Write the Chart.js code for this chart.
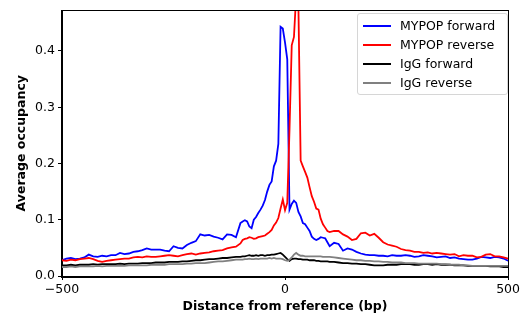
<!DOCTYPE html>
<html>
<head>
<meta charset="utf-8">
<script src="https://cdn.jsdelivr.net/npm/chart.js@4"></script>
<style>
  body { margin: 0; background: #fff; }
  #wrap { position: relative; width: 522px; height: 315px; }
  #legend {
    position: absolute; left: 357px; top: 13px; width: 149px; height: 80px;
    border: 1px solid #d6d6d6; border-radius: 3px; background: rgba(255,255,255,0.8);
    font-family: 'DejaVu Sans'; font-size: 12.5px; color: #000;
  }
  .row { position: absolute; left: 0; height: 16px; line-height: 16px; white-space: nowrap; }
  .swatch { position: absolute; left: 5px; top: 7px; width: 28px; height: 2px; }
  .label { position: absolute; left: 42px; top: 0; }
</style>
</head>
<body>
<div id="wrap">
  <canvas id="occChart" width="522" height="315"></canvas>
  <div id="legend"></div>
</div>
<script>
// distance from reference (bp)
const positions = [
  -500, -490, -480, -470, -460, -450, -440, -430, -420, -410,
  -400, -390, -380, -370, -360, -350, -340, -330, -320, -310,
  -300, -290, -280, -270, -260, -250, -240, -230, -220, -210,
  -200, -190, -180, -170, -160, -150, -140, -130, -120, -110,
  -100, -95, -90, -85, -80, -75, -70, -65, -60, -55,
  -50, -45, -40, -35, -30, -25, -20, -15, -10, -5,
  0, 5, 10, 15, 20, 25, 30, 35, 40, 45,
  50, 55, 60, 65, 70, 75, 80, 85, 90, 95,
  100, 110, 120, 130, 140, 150, 160, 170, 180, 190,
  200, 210, 220, 230, 240, 250, 260, 270, 280, 290,
  300, 310, 320, 330, 340, 350, 360, 370, 380, 390,
  400, 410, 420, 430, 440, 450, 460, 470, 480, 490, 500
];

const mypopForward = [
  0.028, 0.031, 0.032, 0.030, 0.031, 0.033, 0.038, 0.035, 0.034, 0.036,
  0.035, 0.037, 0.037, 0.041, 0.039, 0.040, 0.043, 0.044, 0.046, 0.049,
  0.047, 0.047, 0.047, 0.045, 0.044, 0.053, 0.050, 0.049, 0.055, 0.059,
  0.062, 0.074, 0.072, 0.073, 0.070, 0.068, 0.065, 0.074, 0.073, 0.069,
  0.094, 0.097, 0.099, 0.097, 0.088, 0.085, 0.100, 0.105, 0.112, 0.118,
  0.125, 0.135, 0.150, 0.162, 0.168, 0.195, 0.205, 0.235, 0.443, 0.440,
  0.415, 0.385, 0.118, 0.128, 0.134, 0.130, 0.114, 0.106, 0.094, 0.092,
  0.086, 0.080, 0.070, 0.066, 0.064, 0.066, 0.069, 0.068, 0.067, 0.060,
  0.053, 0.059, 0.057, 0.045, 0.049, 0.047, 0.043, 0.040, 0.038, 0.037,
  0.037, 0.036, 0.036, 0.035, 0.037, 0.036, 0.036, 0.037, 0.036, 0.034,
  0.035, 0.037, 0.036, 0.035, 0.033, 0.034, 0.035, 0.032, 0.033, 0.031,
  0.030, 0.029, 0.029, 0.031, 0.034, 0.033, 0.032, 0.034, 0.033, 0.031, 0.027
];

const mypopReverse = [
  0.028, 0.027, 0.029, 0.028, 0.030, 0.031, 0.032, 0.030, 0.027, 0.025,
  0.027, 0.028, 0.029, 0.030, 0.031, 0.031, 0.033, 0.034, 0.033, 0.035,
  0.034, 0.034, 0.035, 0.036, 0.037, 0.036, 0.035, 0.037, 0.039, 0.040,
  0.038, 0.040, 0.041, 0.042, 0.044, 0.045, 0.046, 0.049, 0.051, 0.052,
  0.058, 0.064, 0.066, 0.067, 0.069, 0.068, 0.066, 0.067, 0.069, 0.070,
  0.071, 0.072, 0.075, 0.078, 0.082, 0.090, 0.095, 0.103, 0.120, 0.136,
  0.117, 0.130, 0.260, 0.410, 0.425, 0.500, 0.480, 0.205, 0.195, 0.185,
  0.175, 0.158, 0.142, 0.132, 0.120, 0.118, 0.102, 0.092, 0.086, 0.080,
  0.078, 0.080, 0.080, 0.074, 0.070, 0.064, 0.066, 0.076, 0.077, 0.072,
  0.075, 0.068, 0.060, 0.056, 0.054, 0.052, 0.048, 0.046, 0.045, 0.043,
  0.043, 0.041, 0.042, 0.040, 0.041, 0.040, 0.039, 0.038, 0.039, 0.035,
  0.037, 0.036, 0.036, 0.033, 0.034, 0.038, 0.039, 0.035, 0.035, 0.033, 0.031
];

const iggForward = [
  0.019, 0.019, 0.020, 0.019, 0.020, 0.020, 0.020, 0.021, 0.020, 0.021,
  0.021, 0.021, 0.021, 0.022, 0.021, 0.022, 0.022, 0.022, 0.023, 0.023,
  0.023, 0.024, 0.024, 0.024, 0.025, 0.025, 0.025, 0.026, 0.026, 0.027,
  0.028, 0.028, 0.029, 0.030, 0.030, 0.031, 0.032, 0.032, 0.033, 0.034,
  0.034, 0.035, 0.035, 0.036, 0.037, 0.036, 0.036, 0.037, 0.036, 0.037,
  0.037, 0.036, 0.037, 0.037, 0.038, 0.038, 0.039, 0.040, 0.041, 0.038,
  0.034, 0.030, 0.027, 0.030, 0.031, 0.031, 0.030, 0.030, 0.029, 0.029,
  0.029, 0.028, 0.028, 0.028, 0.027, 0.027, 0.026, 0.026, 0.026, 0.026,
  0.025, 0.025, 0.024, 0.023, 0.023, 0.022, 0.022, 0.021, 0.021, 0.020,
  0.019, 0.019, 0.019, 0.020, 0.020, 0.020, 0.021, 0.021, 0.021, 0.020,
  0.020, 0.021, 0.021, 0.020, 0.021, 0.020, 0.020, 0.020, 0.019, 0.019,
  0.019, 0.018, 0.018, 0.018, 0.018, 0.018, 0.017, 0.017, 0.017, 0.016, 0.016
];

const iggReverse = [
  0.016, 0.016, 0.017, 0.016, 0.017, 0.017, 0.017, 0.017, 0.018, 0.017,
  0.018, 0.018, 0.018, 0.018, 0.018, 0.019, 0.019, 0.019, 0.019, 0.019,
  0.020, 0.020, 0.020, 0.020, 0.021, 0.021, 0.021, 0.021, 0.022, 0.022,
  0.023, 0.023, 0.023, 0.024, 0.025, 0.026, 0.026, 0.027, 0.028, 0.029,
  0.029, 0.029, 0.030, 0.030, 0.031, 0.030, 0.030, 0.031, 0.030, 0.031,
  0.031, 0.031, 0.031, 0.032, 0.031, 0.032, 0.031, 0.031, 0.031, 0.030,
  0.028, 0.027, 0.029, 0.033, 0.038, 0.041, 0.038, 0.036, 0.036, 0.035,
  0.035, 0.035, 0.035, 0.035, 0.035, 0.035, 0.035, 0.034, 0.034, 0.034,
  0.034, 0.033, 0.032, 0.031, 0.030, 0.029, 0.028, 0.028, 0.027, 0.027,
  0.026, 0.026, 0.025, 0.025, 0.024, 0.024, 0.024, 0.023, 0.023, 0.023,
  0.022, 0.022, 0.022, 0.022, 0.022, 0.021, 0.021, 0.020, 0.020, 0.020,
  0.019, 0.019, 0.018, 0.018, 0.018, 0.018, 0.018, 0.018, 0.018, 0.018, 0.018
];

const seriesNames = ['MYPOP forward', 'MYPOP reverse', 'IgG forward', 'IgG reverse'];
const seriesColors = ['#0000ff', '#ff0000', '#000000', '#808080'];
const seriesValues = [mypopForward, mypopReverse, iggForward, iggReverse];

Chart.defaults.font.family = 'DejaVu Sans';
Chart.defaults.font.size = 12.5;
Chart.defaults.color = '#000';

// matplotlib-style box around the plot
const frame = {
  id: 'frame',
  afterDraw(chart) {
    const a = chart.chartArea;
    const c = chart.ctx;
    c.save();
    c.strokeStyle = '#000';
    c.lineWidth = 1;
    c.strokeRect(Math.round(a.left) - 0.5, Math.round(a.top) - 0.5,
      Math.round(a.right - a.left) + 1, Math.round(a.bottom - a.top) + 1);
    c.restore();
  }
};

const datasets = seriesNames.map((name, i) => ({
  label: name,
  data: positions.map((x, j) => ({ x: x, y: seriesValues[i][j] })),
  borderColor: seriesColors[i],
  borderWidth: 1.8,
  pointRadius: 0,
  tension: 0,
  order: seriesNames.length - i   // later series drawn on top
}));

const ctx = document.getElementById('occChart').getContext('2d');
const chart = new Chart(ctx, {
  type: 'line',
  data: { datasets: datasets },
  plugins: [frame],
  options: {
    responsive: false,
    animation: false,
    layout: { padding: { left: 0, top: 9, right: 13, bottom: 0 } },
    plugins: { legend: { display: false }, tooltip: { enabled: false } },
    scales: {
      x: {
        type: 'linear',
        min: -500, max: 500,
        afterFit: s => { s.height = 39; },
        grid: { drawOnChartArea: false, color: '#000', tickLength: 4, tickWidth: 1 },
        border: { color: '#000' },
        ticks: {
          stepSize: 500, padding: 2, maxRotation: 0,
          callback: v => v < 0 ? '\u2212' + Math.abs(v) : String(v)
        },
        title: {
          display: true, text: 'Distance from reference (bp)',
          font: { weight: 'bold' }, padding: { top: 0, bottom: 1 }
        }
      },
      y: {
        type: 'linear',
        min: 0, max: 0.472,
        afterFit: s => { s.width = 62; },
        grid: { drawOnChartArea: false, color: '#000', tickLength: 4, tickWidth: 1 },
        border: { color: '#000' },
        ticks: { stepSize: 0.1, includeBounds: false, padding: 3, callback: v => v.toFixed(1) },
        title: {
          display: true, text: 'Average occupancy',
          font: { weight: 'bold' }, padding: { top: 14, bottom: 0 }
        }
      }
    }
  }
});

// legend box, upper right inside the axes
const legend = document.getElementById('legend');
seriesNames.forEach((name, i) => {
  const row = document.createElement('div');
  row.className = 'row';
  row.style.top = (4 + i * 19) + 'px';
  row.innerHTML = '<span class="swatch" style="background:' + seriesColors[i] + '"></span>' +
    '<span class="label">' + name + '</span>';
  legend.appendChild(row);
});
</script>
</body>
</html>
